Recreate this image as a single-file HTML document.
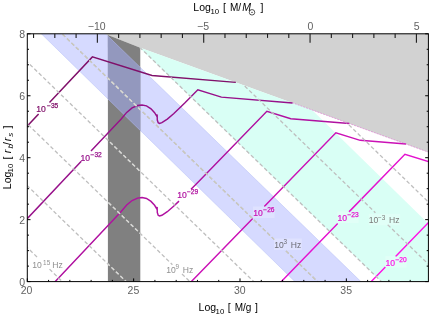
<!DOCTYPE html>
<html><head><meta charset="utf-8"><title>plot</title><style>html,body{margin:0;padding:0;background:#fff}body{width:443px;height:316px;overflow:hidden}</style></head><body>
<svg width="443" height="316" viewBox="0 0 443 316" style="will-change:transform;display:block;font-family:'Liberation Sans',sans-serif">
<rect width="443" height="316" fill="#fff"/>
<defs>
<clipPath id="fr"><rect x="27.3" y="33.8" width="401.1" height="247.8"/></clipPath>
<clipPath id="below"><polygon points="0,0 40,0 40,7.78 140.3,47.1 433.4,153.41 433.4,320 0,320"/></clipPath>
<clipPath id="dk"><polygon points="107.9,34.4 140.3,47.1 140.3,300 107.9,300"/></clipPath>
<clipPath id="blue"><polygon points="7.43,0 71.37,0 401.08,320 334.86,320"/></clipPath>
</defs>
<g clip-path="url(#fr)"><g transform="translate(0,0.6)">
<polygon points="40,7.78 40,0 433.4,0 433.4,153.41 140.3,47.1" fill="#d2d2d2"/>
<g clip-path="url(#below)">
<polygon points="91.01,0 200.12,0 527.73,320 421.65,320" fill="#d9fff5"/>
<polygon points="7.43,0 71.37,0 401.08,320 334.86,320" fill="#d6daff" stroke="#bcc4f6" stroke-width="0.6"/>
</g>
<polygon points="107.9,34.4 140.3,47.1 140.3,300 107.9,300" fill="#808080"/>
<g clip-path="url(#dk)"><polygon points="7.43,0 71.37,0 401.08,320 334.86,320" fill="#9398be" stroke="#a4abdc" stroke-width="0.8"/></g>
<polyline points="-32.7,189.12 38.6,113.41" fill="none" stroke="#80106a" stroke-width="1.45" stroke-linejoin="miter"/>
<polyline points="49.5,101.84 92.38,56.31 152,74.88 235.84,81.75" fill="none" stroke="#80106a" stroke-width="1.45" stroke-linejoin="miter"/>
<polyline points="-32.7,281.72 81.3,160.67" fill="none" stroke="#97108a" stroke-width="1.45" stroke-linejoin="miter"/>
<polyline points="91,150.37 121.2,118.3 126.7,111.8 132.1,107.3 137.5,104.9 142,104.4 146.5,105.3 151,108.2 154.6,112.1 156.5,115.2 157.15,113.9 157.3,119.4 158.2,122.1 159.5,122.8 161.9,122.1 167.3,118.5 173.6,113.1 185,102.2 197.84,89.16 221.4,96.5 292.57,102.33" fill="none" stroke="#97108a" stroke-width="1.45" stroke-linejoin="miter"/>
<polyline points="-32.7,374.32 121.2,210.9 126.7,204.4 132.1,199.9 137.5,197.5 142,197 146.5,197.9 151,200.8 154.6,204.7 156.5,207.8 157.15,206.5 157.3,212 158.2,214.7 159.5,215.4 161.9,214.7 167.3,211.1 173.6,205.7 179,200.54" fill="none" stroke="#b011a0" stroke-width="1.45" stroke-linejoin="miter"/>
<polyline points="191,188.71 198,181.6 266.87,110.66 290.8,118.11 349.31,122.91" fill="none" stroke="#b011a0" stroke-width="1.45" stroke-linejoin="miter"/>
<polyline points="-32.7,466.92 121.2,303.5 126.7,297 132.1,292.5 137.5,290.1 142,289.6 146.5,290.5 151,293.4 154.6,297.3 156.5,300.4 157.15,299.1 157.3,304.6 158.2,307.3 159.5,308 161.9,307.3 167.3,303.7 173.6,298.3 185,287.4 198,274.2 252.7,217.86" fill="none" stroke="#cb11b6" stroke-width="1.45" stroke-linejoin="miter"/>
<polyline points="264.3,205.91 335.9,132.16 360.2,139.73 406.05,143.49" fill="none" stroke="#cb11b6" stroke-width="1.45" stroke-linejoin="miter"/>
<polyline points="-32.7,559.52 121.2,396.1 126.7,389.6 132.1,385.1 137.5,382.7 142,382.2 146.5,383.1 151,386 154.6,389.9 156.5,393 157.15,391.7 157.3,397.2 158.2,399.9 159.5,400.6 161.9,399.9 167.3,396.3 173.6,390.9 185,380 198,366.8 337.7,222.91" fill="none" stroke="#e412cf" stroke-width="1.45" stroke-linejoin="miter"/>
<polyline points="349,211.27 404.93,153.67 429.6,161.35 462.78,164.07" fill="none" stroke="#e412cf" stroke-width="1.45" stroke-linejoin="miter"/>
<polyline points="-32.7,652.12 121.2,488.7 126.7,482.2 132.1,477.7 137.5,475.3 142,474.8 146.5,475.7 151,478.6 154.6,482.5 156.5,485.6 157.15,484.3 157.3,489.8 158.2,492.5 159.5,493.2 161.9,492.5 167.3,488.9 173.6,483.5 185,472.6 198,459.4 385.4,266.38" fill="none" stroke="#ff12e6" stroke-width="1.45" stroke-linejoin="miter"/>
<polyline points="395.6,255.87 473.95,175.17 433.4,162.53" fill="none" stroke="#ff12e6" stroke-width="1.45" stroke-linejoin="miter"/>
<g clip-path="url(#fr)"><g clip-path="url(#below)" fill="none" stroke="#bebebe" stroke-width="1.3" stroke-dasharray="3.8,2.4">
<line x1="-201.56" y1="25" x2="38.6" y2="257.96"/>
<line x1="49.5" y1="268.53" x2="71.63" y2="290"/>
<line x1="-137.76" y1="25" x2="135.43" y2="290"/>
<line x1="-74.06" y1="25" x2="172.4" y2="264.07"/>
<line x1="182" y1="273.38" x2="199.13" y2="290"/>
<line x1="-10.16" y1="25" x2="263.03" y2="290"/>
<line x1="53.64" y1="25" x2="274.3" y2="239.04"/>
<line x1="285.9" y1="250.3" x2="326.83" y2="290"/>
<line x1="117.44" y1="25" x2="390.63" y2="290"/>
<line x1="182.44" y1="25" x2="375.4" y2="212.17"/>
<line x1="387.7" y1="224.11" x2="455.63" y2="290"/>
<line x1="246.54" y1="25" x2="519.73" y2="290"/>
</g></g>
<g clip-path="url(#blue)"><g clip-path="url(#below)" fill="none" stroke="#cac8bc" stroke-width="1.3" stroke-dasharray="3.8,2.4">
<line x1="-201.56" y1="25" x2="38.6" y2="257.96"/>
<line x1="49.5" y1="268.53" x2="71.63" y2="290"/>
<line x1="-137.76" y1="25" x2="135.43" y2="290"/>
<line x1="-74.06" y1="25" x2="172.4" y2="264.07"/>
<line x1="182" y1="273.38" x2="199.13" y2="290"/>
<line x1="-10.16" y1="25" x2="263.03" y2="290"/>
<line x1="53.64" y1="25" x2="274.3" y2="239.04"/>
<line x1="285.9" y1="250.3" x2="326.83" y2="290"/>
<line x1="117.44" y1="25" x2="390.63" y2="290"/>
<line x1="182.44" y1="25" x2="375.4" y2="212.17"/>
<line x1="387.7" y1="224.11" x2="455.63" y2="290"/>
<line x1="246.54" y1="25" x2="519.73" y2="290"/>
</g></g>
<g clip-path="url(#dk)"><g clip-path="url(#below)" fill="none" stroke="#d9d9d6" stroke-width="1.3" stroke-dasharray="3.8,2.4">
<line x1="-201.56" y1="25" x2="38.6" y2="257.96"/>
<line x1="49.5" y1="268.53" x2="71.63" y2="290"/>
<line x1="-137.76" y1="25" x2="135.43" y2="290"/>
<line x1="-74.06" y1="25" x2="172.4" y2="264.07"/>
<line x1="182" y1="273.38" x2="199.13" y2="290"/>
<line x1="-10.16" y1="25" x2="263.03" y2="290"/>
<line x1="53.64" y1="25" x2="274.3" y2="239.04"/>
<line x1="285.9" y1="250.3" x2="326.83" y2="290"/>
<line x1="117.44" y1="25" x2="390.63" y2="290"/>
<line x1="182.44" y1="25" x2="375.4" y2="212.17"/>
<line x1="387.7" y1="224.11" x2="455.63" y2="290"/>
<line x1="246.54" y1="25" x2="519.73" y2="290"/>
</g></g>
<line x1="292" y1="102.12" x2="428.4" y2="151.6" stroke="#e060d0" stroke-width="0.5" stroke-dasharray="2,1"/>
</g></g>
<rect x="27.3" y="33.8" width="401.1" height="247.8" fill="none" stroke="#000" stroke-width="1"/>
<g stroke="#000" stroke-width="1">
<line x1="27.3" y1="281.6" x2="27.3" y2="278.4"/>
<line x1="48.57" y1="281.6" x2="48.57" y2="279.9"/>
<line x1="69.84" y1="281.6" x2="69.84" y2="279.9"/>
<line x1="91.11" y1="281.6" x2="91.11" y2="279.9"/>
<line x1="112.38" y1="281.6" x2="112.38" y2="279.9"/>
<line x1="133.65" y1="281.6" x2="133.65" y2="278.4"/>
<line x1="154.92" y1="281.6" x2="154.92" y2="279.9"/>
<line x1="176.19" y1="281.6" x2="176.19" y2="279.9"/>
<line x1="197.46" y1="281.6" x2="197.46" y2="279.9"/>
<line x1="218.73" y1="281.6" x2="218.73" y2="279.9"/>
<line x1="240" y1="281.6" x2="240" y2="278.4"/>
<line x1="261.27" y1="281.6" x2="261.27" y2="279.9"/>
<line x1="282.54" y1="281.6" x2="282.54" y2="279.9"/>
<line x1="303.81" y1="281.6" x2="303.81" y2="279.9"/>
<line x1="325.08" y1="281.6" x2="325.08" y2="279.9"/>
<line x1="346.35" y1="281.6" x2="346.35" y2="278.4"/>
<line x1="367.62" y1="281.6" x2="367.62" y2="279.9"/>
<line x1="388.89" y1="281.6" x2="388.89" y2="279.9"/>
<line x1="410.16" y1="281.6" x2="410.16" y2="279.9"/>
<line x1="27.3" y1="281.6" x2="30.5" y2="281.6"/>
<line x1="428.4" y1="281.6" x2="425.2" y2="281.6"/>
<line x1="27.3" y1="266.11" x2="29" y2="266.11"/>
<line x1="428.4" y1="266.11" x2="426.7" y2="266.11"/>
<line x1="27.3" y1="250.63" x2="29" y2="250.63"/>
<line x1="428.4" y1="250.63" x2="426.7" y2="250.63"/>
<line x1="27.3" y1="235.14" x2="29" y2="235.14"/>
<line x1="428.4" y1="235.14" x2="426.7" y2="235.14"/>
<line x1="27.3" y1="219.65" x2="30.5" y2="219.65"/>
<line x1="428.4" y1="219.65" x2="425.2" y2="219.65"/>
<line x1="27.3" y1="204.16" x2="29" y2="204.16"/>
<line x1="428.4" y1="204.16" x2="426.7" y2="204.16"/>
<line x1="27.3" y1="188.68" x2="29" y2="188.68"/>
<line x1="428.4" y1="188.68" x2="426.7" y2="188.68"/>
<line x1="27.3" y1="173.19" x2="29" y2="173.19"/>
<line x1="428.4" y1="173.19" x2="426.7" y2="173.19"/>
<line x1="27.3" y1="157.7" x2="30.5" y2="157.7"/>
<line x1="428.4" y1="157.7" x2="425.2" y2="157.7"/>
<line x1="27.3" y1="142.21" x2="29" y2="142.21"/>
<line x1="428.4" y1="142.21" x2="426.7" y2="142.21"/>
<line x1="27.3" y1="126.73" x2="29" y2="126.73"/>
<line x1="428.4" y1="126.73" x2="426.7" y2="126.73"/>
<line x1="27.3" y1="111.24" x2="29" y2="111.24"/>
<line x1="428.4" y1="111.24" x2="426.7" y2="111.24"/>
<line x1="27.3" y1="95.75" x2="30.5" y2="95.75"/>
<line x1="428.4" y1="95.75" x2="425.2" y2="95.75"/>
<line x1="27.3" y1="80.26" x2="29" y2="80.26"/>
<line x1="428.4" y1="80.26" x2="426.7" y2="80.26"/>
<line x1="27.3" y1="64.78" x2="29" y2="64.78"/>
<line x1="428.4" y1="64.78" x2="426.7" y2="64.78"/>
<line x1="27.3" y1="49.29" x2="29" y2="49.29"/>
<line x1="428.4" y1="49.29" x2="426.7" y2="49.29"/>
<line x1="27.3" y1="33.8" x2="30.5" y2="33.8"/>
<line x1="428.4" y1="33.8" x2="425.2" y2="33.8"/>
</g>
<g stroke="#1c1c1c" stroke-width="1.1">
<line x1="33.55" y1="33.8" x2="33.55" y2="37.9"/>
<line x1="54.82" y1="33.8" x2="54.82" y2="37.9"/>
<line x1="76.09" y1="33.8" x2="76.09" y2="37.9"/>
<line x1="97.36" y1="33.8" x2="97.36" y2="42.8"/>
<line x1="118.63" y1="33.8" x2="118.63" y2="37.9"/>
<line x1="139.9" y1="33.8" x2="139.9" y2="37.9"/>
<line x1="161.17" y1="33.8" x2="161.17" y2="37.9"/>
<line x1="182.44" y1="33.8" x2="182.44" y2="37.9"/>
<line x1="203.71" y1="33.8" x2="203.71" y2="42.8"/>
<line x1="224.98" y1="33.8" x2="224.98" y2="37.9"/>
<line x1="246.25" y1="33.8" x2="246.25" y2="37.9"/>
<line x1="267.52" y1="33.8" x2="267.52" y2="37.9"/>
<line x1="288.79" y1="33.8" x2="288.79" y2="37.9"/>
<line x1="310.06" y1="33.8" x2="310.06" y2="42.8"/>
<line x1="331.33" y1="33.8" x2="331.33" y2="37.9"/>
<line x1="352.6" y1="33.8" x2="352.6" y2="37.9"/>
<line x1="373.87" y1="33.8" x2="373.87" y2="37.9"/>
<line x1="395.14" y1="33.8" x2="395.14" y2="37.9"/>
<line x1="416.41" y1="33.8" x2="416.41" y2="42.8"/>
</g>
<g font-size="10.5" fill="#626262">
<text x="26.6" y="293.6" text-anchor="middle">20</text>
<text x="133.45" y="293.6" text-anchor="middle">25</text>
<text x="239.8" y="293.6" text-anchor="middle">30</text>
<text x="346.15" y="293.6" text-anchor="middle">35</text>
<text x="96.66" y="29.6" text-anchor="middle">−10</text>
<text x="203.01" y="29.6" text-anchor="middle">−5</text>
<text x="310.36" y="29.6" text-anchor="middle">0</text>
<text x="416.71" y="29.6" text-anchor="middle">5</text>
<text x="25" y="285.8" text-anchor="end">0</text>
<text x="25" y="223.85" text-anchor="end">2</text>
<text x="25" y="161.9" text-anchor="end">4</text>
<text x="25" y="99.95" text-anchor="end">6</text>
<text x="25" y="38" text-anchor="end">8</text>
</g>
<g fill="#000">
<text x="193.3" y="11.3" font-size="10.5">Log</text>
<text x="210.5" y="13.7" font-size="7.8">10</text>
<text x="222.9" y="11.3" font-size="10.5">[</text>
<text x="229.9" y="11.3" font-size="10">M/</text>
<text x="242.2" y="11.3" font-size="10.5" font-style="italic">M</text>
<circle cx="252" cy="12.3" r="2.75" fill="none" stroke="#000" stroke-width="0.65"/><circle cx="252" cy="12.3" r="0.65" fill="#000"/>
<text x="260.4" y="11.3" font-size="10.5">]</text>
<text x="198.6" y="311.4" font-size="10.5">Log</text>
<text x="215.6" y="313.7" font-size="7.8">10</text>
<text x="227.8" y="311.4" font-size="10.5">[</text>
<text x="234.7" y="311.4" font-size="10">M/g</text>
<text x="254.9" y="311.4" font-size="10.5">]</text>
<g transform="translate(10.8,189.2) rotate(-90)">
<text x="0" y="0" font-size="10.5">Log</text>
<text x="16.8" y="2.3" font-size="7.8">10</text>
<text x="29.8" y="0" font-size="10.5">[</text>
<text x="36" y="0" font-size="11" font-style="italic">r</text>
<text x="40.6" y="2.3" font-size="8" font-style="italic">b</text>
<text x="44.3" y="0" font-size="10.5">/</text>
<text x="48" y="0" font-size="11" font-style="italic">r</text>
<text x="52.4" y="2.3" font-size="8" font-style="italic">s</text>
<text x="60.8" y="0" font-size="10.5">]</text>
</g>
</g>
<text x="36.35" y="111.9" font-size="8.6" fill="#80106a" stroke="#80106a" stroke-width="0.2">10</text>
<text x="47.1" y="108.2" font-size="6.6" fill="#80106a" stroke="#80106a" stroke-width="0.25">−35</text>
<text x="80.45" y="161" font-size="8.6" fill="#97108a" stroke="#97108a" stroke-width="0.2">10</text>
<text x="90.6" y="157.3" font-size="6.6" fill="#97108a" stroke="#97108a" stroke-width="0.25">−32</text>
<text x="177.25" y="198" font-size="8.6" fill="#b011a0" stroke="#b011a0" stroke-width="0.2">10</text>
<text x="187" y="194.3" font-size="6.6" fill="#b011a0" stroke="#b011a0" stroke-width="0.25">−29</text>
<rect x="253" y="206.5" width="21.6" height="11.5" fill="#fff" fill-opacity="0.22"/>
<text x="253.15" y="216" font-size="8.6" fill="#cb11b6" stroke="#cb11b6" stroke-width="0.2">10</text>
<text x="263.3" y="212.3" font-size="6.6" fill="#cb11b6" stroke="#cb11b6" stroke-width="0.25">−26</text>
<rect x="337.4" y="211.5" width="21.3" height="11.5" fill="#fff" fill-opacity="0.22"/>
<text x="337.55" y="221" font-size="8.6" fill="#e412cf" stroke="#e412cf" stroke-width="0.2">10</text>
<text x="347.4" y="217.3" font-size="6.6" fill="#e412cf" stroke="#e412cf" stroke-width="0.25">−23</text>
<rect x="385.4" y="256.1" width="21.3" height="11.5" fill="#fff" fill-opacity="0.22"/>
<text x="385.55" y="265.6" font-size="8.6" fill="#ff12e6" stroke="#ff12e6" stroke-width="0.2">10</text>
<text x="395.4" y="261.9" font-size="6.6" fill="#ff12e6" stroke="#ff12e6" stroke-width="0.25">−20</text>
<text x="32.35" y="268.3" font-size="8.6" fill="#909090">10</text>
<text x="43.1" y="264.6" font-size="6.4" fill="#909090">15</text>
<text x="52.3" y="268.3" font-size="8.6" fill="#909090">Hz</text>
<text x="166.15" y="273" font-size="8.6" fill="#909090">10</text>
<text x="175.6" y="269.3" font-size="6.4" fill="#909090">9</text>
<text x="182.7" y="273" font-size="8.6" fill="#909090">Hz</text>
<rect x="274" y="238.5" width="27.8" height="11.5" fill="#fff" fill-opacity="0.22"/>
<text x="274.15" y="248" font-size="8.6" fill="#6c6c74">10</text>
<text x="283.6" y="244.3" font-size="6.4" fill="#6c6c74">3</text>
<text x="290.7" y="248" font-size="8.6" fill="#6c6c74">Hz</text>
<rect x="368.7" y="213.8" width="31.5" height="11.5" fill="#fff" fill-opacity="0.22"/>
<text x="368.85" y="223.3" font-size="8.6" fill="#7a7a78">10</text>
<text x="378.1" y="219.6" font-size="6.4" fill="#7a7a78">−3</text>
<text x="389.1" y="223.3" font-size="8.6" fill="#7a7a78">Hz</text>
</svg>
</body></html>
